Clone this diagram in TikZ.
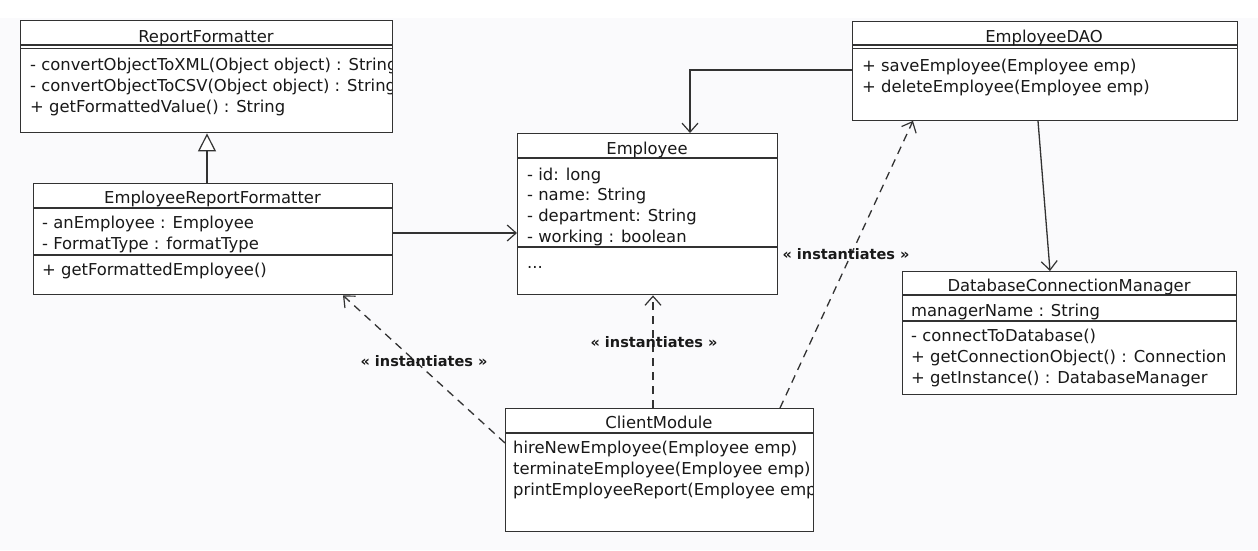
\documentclass[tikz,border=0pt]{standalone}
\usepackage{fontspec}
\setmainfont{DejaVu Sans}
\usetikzlibrary{arrows.meta,calc}
\definecolor{ln}{RGB}{50,50,50}
\definecolor{tx}{RGB}{25,25,25}
\definecolor{bg}{RGB}{250,250,252}
\tikzset{
  cls/.style={draw=ln, line width=1.4pt, fill=white, anchor=north west, inner sep=0pt},
  sep/.style={draw=ln, line width=1.3pt},
  txt/.style={anchor=base west, inner sep=0pt, text=tx, font=\fontsize{16.4}{19}\selectfont},
  ttl/.style={anchor=base, inner sep=0pt, text=tx, font=\fontsize{16.4}{19}\selectfont},
  lbl/.style={anchor=base, inner sep=0pt, text=black!90, font=\bfseries\fontsize{14.5}{17}\selectfont},
  assoc/.style={draw=ln, line width=1.3pt, -{Straight Barb[length=9pt,width=16pt,line width=1.2pt]}},
  dep/.style={assoc, dash pattern=on 8pt off 6pt},
  gen/.style={draw=ln, line width=1.3pt, -{Triangle[open,length=18pt,width=18pt,line width=1.2pt,fill=white]}}
}
\begin{document}
\begin{tikzpicture}[x=1pt,y=-1pt]
\useasboundingbox (0,0) rectangle (1258,550);
\fill[white] (0,0) rectangle (1258,550);
\fill[bg] (0,18) rectangle (1258,550);

% ReportFormatter
\node[cls, minimum width=372pt, minimum height=112pt] (rf) at (20,20) {};
\draw[sep] (20,45) -- (392,45);
\draw[sep] (20,48.5) -- (392,48.5);
\node[ttl] (rft) at (206,42) {ReportFormatter};
\begin{scope}
\clip (20,20) rectangle (391,132);
\node[txt] (rf1) at (30,70.5) {- convertObjectToXML(Object object) : String};
\node[txt] (rf2) at (30,91.5) {- convertObjectToCSV(Object object) : String};
\end{scope}
\node[txt] (rf3) at (30,112.5) {+ getFormattedValue() : String};

% EmployeeReportFormatter
\node[cls, minimum width=359pt, minimum height=111pt] (erf) at (33,183) {};
\draw[sep] (33,208) -- (392,208);
\draw[sep] (33,255) -- (392,255);
\node[ttl] (erft) at (212.5,203) {EmployeeReportFormatter};
\node[txt] (erf1) at (42,228) {- anEmployee : Employee};
\node[txt] (erf2) at (42,249) {- FormatType : formatType};
\node[txt] (erf3) at (42,275) {+ getFormattedEmployee()};

% Employee
\node[cls, minimum width=260pt, minimum height=161pt] (emp) at (517,133) {};
\draw[sep] (517,158) -- (777,158);
\draw[sep] (517,247) -- (777,247);
\node[ttl] (empt) at (647,154) {Employee};
\node[txt] (emp1) at (527,180) {- id: long};
\node[txt] (emp2) at (527,200.5) {- name: String};
\node[txt] (emp3) at (527,221) {- department: String};
\node[txt] (emp4) at (527,242) {- working : boolean};
\node[txt] (emp5) at (527,268) {...};

% EmployeeDAO
\node[cls, minimum width=385pt, minimum height=99pt] (dao) at (852,20.5) {};
\draw[sep] (852,45) -- (1237,45);
\draw[sep] (852,48.5) -- (1237,48.5);
\node[ttl] (daot) at (1044,42) {EmployeeDAO};
\node[txt] (dao1) at (862,71) {+ saveEmployee(Employee emp)};
\node[txt] (dao2) at (862,92) {+ deleteEmployee(Employee emp)};

% DatabaseConnectionManager
\node[cls, minimum width=334pt, minimum height=123pt] (dcm) at (902,271) {};
\draw[sep] (902,295) -- (1236,295);
\draw[sep] (902,321) -- (1236,321);
\node[ttl] (dcmt) at (1069,291) {DatabaseConnectionManager};
\node[txt] (dcm1) at (911,316) {managerName : String};
\node[txt] (dcm2) at (911,341) {- connectToDatabase()};
\node[txt] (dcm3) at (911,362) {+ getConnectionObject() : Connection};
\node[txt] (dcm4) at (911,383) {+ getInstance() : DatabaseManager};

% ClientModule
\node[cls, minimum width=308pt, minimum height=123pt] (cm) at (505,408) {};
\draw[sep] (505,433) -- (813,433);
\node[ttl] (cmt) at (659,428) {ClientModule};
\begin{scope}
\clip (505,408) rectangle (812,531);
\node[txt] (cm1) at (513,453) {hireNewEmployee(Employee emp)};
\node[txt] (cm2) at (513,474) {terminateEmployee(Employee emp)};
\node[txt] (cm3) at (513,495) {printEmployeeReport(Employee emp)};
\end{scope}

% connectors
\draw[gen] ($(erf.north west)+(174,0)$) -- ($(rf.south west)+(187,0)$);
\draw[assoc] ($(erf.north east)+(0,50)$) -- ($(emp.north west)+(0,100)$);
\draw[assoc] ($(dao.north west)+(0,49.5)$) -| ($(emp.north west)+(173,0)$);
\draw[assoc] ($(dao.south west)+(186,0)$) -- ($(dcm.north west)+(148,0)$);
\draw[dep] ($(cm.north west)+(0,35)$) -- ($(erf.south west)+(310,0)$);
\draw[dep] ($(cm.north west)+(148,0)$) -- ($(emp.south west)+(136,0)$);
\draw[dep] ($(cm.north west)+(275,0)$) -- ($(dao.south west)+(61,0)$);

% labels
\node[lbl] (l1) at (424,366) {« instantiates »};
\node[lbl] (l2) at (654,347) {« instantiates »};
\node[lbl] (l3) at (846,259) {« instantiates »};
\end{tikzpicture}
\end{document}
